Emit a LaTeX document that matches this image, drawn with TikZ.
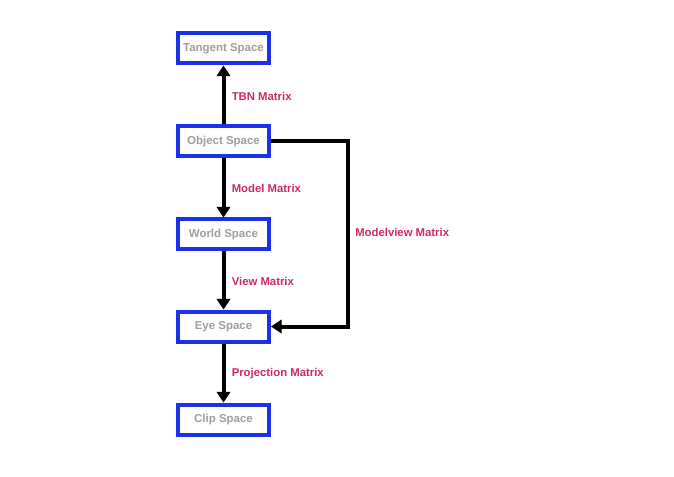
\documentclass[tikz,border=0pt]{standalone}
\usepackage{fontspec}
\setmainfont{Liberation Sans}
\usetikzlibrary{arrows.meta}
\definecolor{boxblue}{RGB}{28,48,232}
\definecolor{boxtext}{RGB}{158,158,158}
\definecolor{lblcol}{RGB}{208,40,100}
\tikzset{
  space/.style={draw=boxblue, line width=3pt, fill=white, minimum width=68.25pt, minimum height=22.5pt, inner sep=0pt,
    text=boxtext, font=\fontsize{8.6pt}{10.5pt}\selectfont\bfseries},
  conn/.style={line width=3pt, draw=black, -{Triangle[width=10pt,length=8pt]}},
  lbl/.style={text=lblcol, font=\fontsize{8.5pt}{10pt}\selectfont\bfseries, anchor=west, inner sep=0pt}
}
\begin{document}
\begin{tikzpicture}[x=0.75pt,y=-0.75pt]
\useasboundingbox (0,0) rectangle (674,477);
\node[space] (tan) at (223.5,48.5) {Tangent Space};
\node[space] (obj) at (223.5,141.5) {Object Space};
\node[space] (wor) at (223.5,234.5) {World Space};
\node[space] (eye) at (223.5,326.5) {Eye Space};
\node[space] (cli) at (223.5,419.5) {Clip Space};
\coordinate (c1) at (347.5,141.5);
\coordinate (c2) at (347.5,326.5);
\draw[conn] (obj.north) -- (tan.south);
\draw[conn] (obj.south) -- (wor.north);
\draw[conn] (wor.south) -- (eye.north);
\draw[conn] (eye.south) -- (cli.north);
\draw[conn, line join=miter] (obj.east) -- (c1) -- (c2) -- (eye.east);
\node[lbl] (l1) at (231.5,96) {TBN Matrix};
\node[lbl] (l2) at (231.5,188) {Model Matrix};
\node[lbl] (l3) at (231.5,281) {View Matrix};
\node[lbl] (l4) at (231.5,374) {Projection Matrix};
\node[lbl] (l5) at (355,232) {Modelview Matrix};
\end{tikzpicture}
\end{document}
